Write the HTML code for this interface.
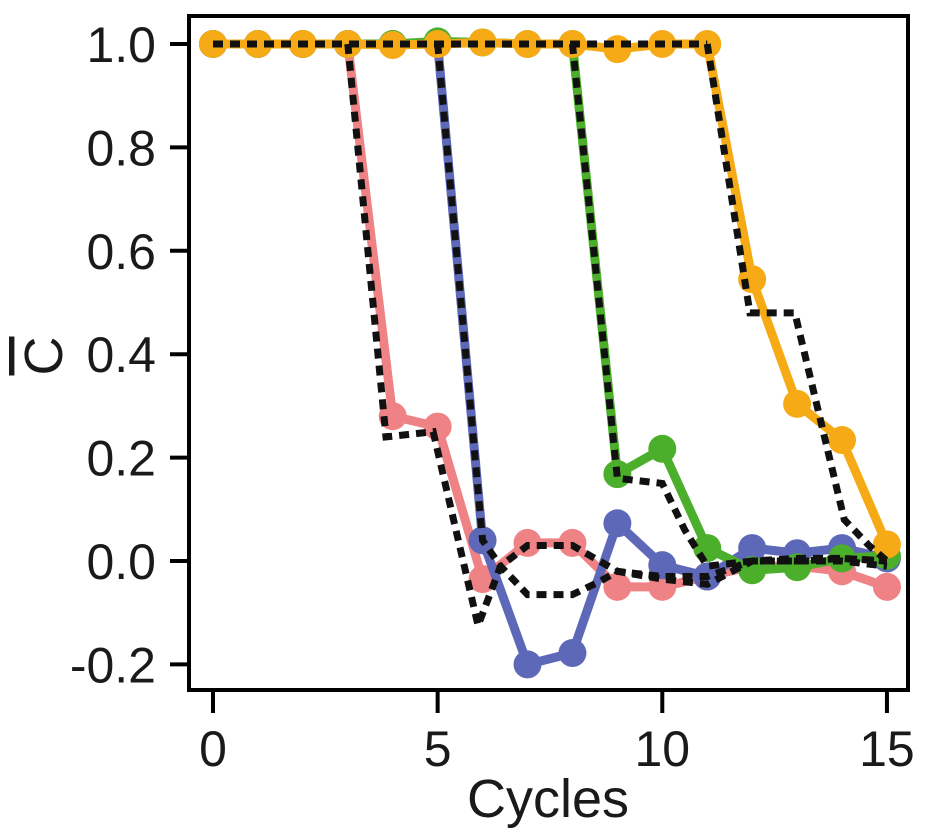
<!DOCTYPE html>
<html><head><meta charset="utf-8"><style>
html,body{margin:0;padding:0;background:#fff;}
svg{display:block;font-family:"Liberation Sans",Arial,sans-serif;}
</style></head><body>
<svg id="chart" width="951" height="832" viewBox="0 0 951 832" xmlns="http://www.w3.org/2000/svg">
<g id="plot"></g>
<g id="axes"></g>
</svg>
<script>
const cycles = [0,1,2,3,4,5,6,7,8,9,10,11,12,13,14,15];
const redVals    = [1,1,1,1,0.28,0.26,-0.035,0.035,0.035,-0.05,-0.05,-0.03,-0.01,-0.01,-0.02,-0.05];
const blueVals   = [1,1,1,1,1,1,0.04,-0.2,-0.178,0.073,-0.008,-0.03,0.025,0.015,0.025,0.005];
const greenVals  = [1,1,1,1,1,1.005,1.003,1,1,0.168,0.217,0.025,-0.018,-0.012,0.005,0.01];
const orangeVals = [1,1,1,1,0.998,1,1.003,1,1,0.99,1,1,0.545,0.304,0.234,0.032];
const modelTopX = [0,11];
const modelTopY = [1,1];
const modelRedX = [3,3.85,4.9,5.9,6.4,7,8,8.6,9,10,11,12,13,14,15];
const modelRedY = [1,0.24,0.25,-0.125,-0.01,0.03,0.03,0.0,-0.02,-0.03,-0.03,0,0,0,-0.01];
const modelBlueX = [5,6,6.4,7,8,8.6,9,10,11,12,13,14,15];
const modelBlueY = [1,0.04,-0.01,-0.065,-0.065,-0.04,-0.02,-0.035,-0.045,0.0,0.005,0.005,0.0];
const modelGreenX = [8,9,10,10.5,11,12,13,14,15];
const modelGreenY = [1,0.16,0.15,0.06,-0.01,0.0,0.0,0.005,0.0];
const modelOrangeX = [11,11.95,12.95,14.05,14.6,15];
const modelOrangeY = [1,0.48,0.48,0.08,0.03,0.0];
const xTicks = [0,5,10,15];
const yTicks = [-0.2,0,0.2,0.4,0.6,0.8,1.0];
const yTickLabels = ["-0.2","0.0","0.2","0.4","0.6","0.8","1.0"];

const NS="http://www.w3.org/2000/svg";
function X(v){return 213+v*44.93;}
function Y(v){return 561-v*517;}
function mk(tag,attrs,parent){const e=document.createElementNS(NS,tag);for(const k in attrs)e.setAttribute(k,attrs[k]);parent.appendChild(e);return e;}
const plot=document.getElementById('plot');
const axes=document.getElementById('axes');

const series=[
 {name:'red',vals:redVals,color:'#ee8285'},
 {name:'blue',vals:blueVals,color:'#5e68b8'},
 {name:'green',vals:greenVals,color:'#4caf2c'},
 {name:'orange',vals:orangeVals,color:'#f6ab16'}
];
series.forEach(s=>{
  const g=mk('g',{},plot);
  
  
  const pts=cycles.map((c,i)=>X(c)+','+Y(s.vals[i])).join(' ');
  const pl=mk('polyline',{points:pts,fill:'none',stroke:s.color,'stroke-width':9,'stroke-linejoin':'round'},g);
  
  
  cycles.forEach((c,i)=>{
    const p=mk('circle',{cx:X(c),cy:Y(s.vals[i]),r:14,fill:s.color},g);
    
    
  });
});
const models=[['top',modelTopX,modelTopY],['red',modelRedX,modelRedY],['blue',modelBlueX,modelBlueY],['green',modelGreenX,modelGreenY],['orange',modelOrangeX,modelOrangeY]];
models.forEach(m=>{
  const pts=m[1].map((x,i)=>X(x)+','+Y(m[2][i])).join(' ');
  const pl=mk('polyline',{points:pts,fill:'none',stroke:'#111','stroke-width':7,'stroke-dasharray':'10 7'},plot);
  
  
});

const fr=mk('rect',{x:189,y:16,width:719,height:674,fill:'none',stroke:'#000','stroke-width':4},axes);


yTicks.forEach((t,i)=>{
  const l=mk('line',{x1:170,x2:189,y1:Y(t),y2:Y(t),stroke:'#000','stroke-width':4},axes);
  
  
  const tx=mk('text',{x:156,y:Y(t)+18,'text-anchor':'end','font-size':50,fill:'#1a1a1a'},axes);
  tx.textContent=yTickLabels[i];
  
  
});
xTicks.forEach(t=>{
  const l=mk('line',{x1:X(t),x2:X(t),y1:690,y2:713,stroke:'#000','stroke-width':4},axes);
  
  
  const tx=mk('text',{x:X(t),y:766,'text-anchor':'middle','font-size':50,fill:'#1a1a1a'},axes);
  tx.textContent=String(t);
  
  
});
const xt=mk('text',{x:548,y:817,'text-anchor':'middle','font-size':54,fill:'#1a1a1a'},axes);
xt.textContent='Cycles';


const yt=mk('text',{x:0,y:0,'text-anchor':'middle','font-size':54,fill:'#1a1a1a','text-decoration':'overline',transform:'translate(62,356) rotate(-90)'},axes);
yt.textContent='C';


</script>
</body></html>
